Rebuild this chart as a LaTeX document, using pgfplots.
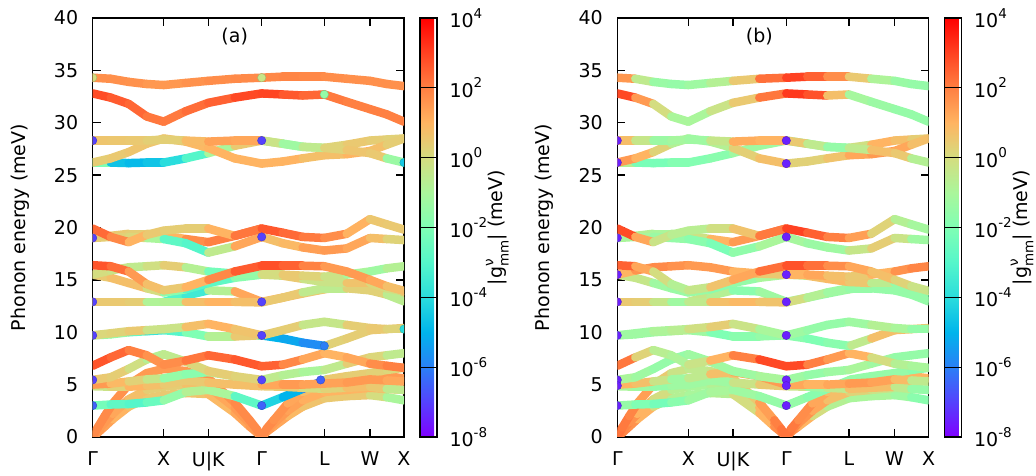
\documentclass[border=0pt]{standalone}
\usepackage{fontspec}
\setmainfont{DejaVu Sans}
\usepackage{pgfplots}
\pgfplotsset{compat=1.18}
\usepackage{pgfplotstable}
\newcommand\sups[1]{\raisebox{0.5em}{\fontsize{13.5bp}{15bp}\selectfont #1}}
\newcommand\subs[1]{\raisebox{-0.3em}{\fontsize{13.5bp}{15bp}\selectfont #1}}

% columns: x (path coordinate), y (energy, meV), a = log10|g| panel (a), b = log10|g| panel (b)
\pgfplotstableread{
x y a b
0 34.3 1.7 2.8
18 34.2 1.7 0.3
36 33.9 1.7 -1.3
54 33.7 1.6 -1.5
71 33.6 1.5 -1.5
93 33.8 1.6 -1.0
115.6 34.0 1.7 -0.5
142 34.2 1.8 1.5
169 34.3 1.8 3.0
190 34.4 1.9 3.0
210 34.4 1.9 2.0
231.6 34.4 1.8 1.5
254 34.2 1.7 -0.5
277.3 34.0 1.7 -1.3
294 33.7 1.7 -1.5
311.3 33.5 1.7 -1.5
}\bA
\pgfplotstableread{
x y a b
0 32.8 3.0 3.3
18 32.4 2.7 2.5
36 31.8 2.5 0.5
54 30.6 2.3 -0.5
71 30.1 2.0 -1.5
93 31.1 2.2 -0.5
115.6 31.9 2.4 0.0
142 32.4 2.6 1.0
169 32.8 3.2 3.3
190 32.7 2.7 3.0
210 32.6 2.6 2.5
231.6 32.7 2.2 -1.0
254 32.0 2.0 -1.2
277.3 31.3 2.0 -1.5
294 30.8 2.0 -1.5
311.3 30.1 2.0 -1.5
}\bB
\pgfplotstableread{
x y a b
0 28.3 0.6 0.8
18 28.3 0.6 0.8
36 28.3 0.5 -1.5
54 28.3 0.5 -1.2
71 28.4 0.2 -1.0
93 28.3 0.5 -1.5
115.6 28.2 1.2 0.8
142 28.3 1.5 1.5
169 28.3 1.0 0.5
190 28.0 -1.5 0.5
210 27.7 -1.0 -1.5
231.6 27.6 0.0 -1.5
254 27.4 0.5 0.5
277.3 27.1 0.7 1.0
294 26.6 0.3 0.0
311.3 26.2 -3.0 -1.5
}\bC
\pgfplotstableread{
x y a b
0 26.2 0.3 1.5
18 26.6 0.5 1.5
36 27.2 0.5 0.5
54 28.0 0.7 0.0
71 28.5 0.5 -1.5
93 28.2 0.8 -1.0
115.6 27.6 1.0 -0.5
142 26.6 1.0 1.2
169 26.1 1.0 0.3
190 26.3 1.0 0.3
210 26.6 1.0 0.3
231.6 26.9 0.5 1.0
254 27.0 1.0 1.5
277.3 27.3 1.0 1.5
294 27.9 0.5 1.0
311.3 28.5 0.3 0.5
}\bD
\pgfplotstableread{
x y a b
0 26.2 0.3 0.5
18 26.2 -4.3 -2.0
36 26.15 -5.0 -2.3
54 26.2 -4.7 -2.0
71 26.2 -4.5 -1.8
93 26.6 -3.5 -2.0
115.6 27.1 -2.5 -1.5
142 27.8 0.5 -1.0
169 28.3 0.5 -1.5
190 28.0 -1.5 -1.5
210 27.7 -1.0 -1.5
231.6 27.6 0.0 -1.2
254 27.9 0.5 1.0
277.3 28.3 0.5 1.0
294 28.4 0.3 0.5
311.3 28.5 0.3 0.3
}\bE
\pgfplotstableread{
x y a b
0 19.9 2.5 3.2
18 19.1 2.2 2.5
36 18.6 1.5 0.0
54 19.3 0.5 -0.5
71 19.7 0.5 -0.8
93 19.9 0.3 -0.5
115.6 19.9 0.5 0.3
142 19.2 1.5 1.0
169 19.9 2.8 3.2
190 19.5 2.5 2.8
210 19.1 2.2 2.2
231.6 19.0 2.0 1.8
254 19.4 1.5 1.0
277.3 20.8 0.6 -0.5
294 20.3 0.5 -1.0
311.3 19.8 0.5 -1.2
}\bF
\pgfplotstableread{
x y a b
0 19.0 0.5 -1.0
18 19.1 0.3 -1.0
36 19.1 0.3 -1.2
54 19.0 0.0 -1.5
71 18.9 -2.0 -1.5
93 18.5 -3.5 -2.0
115.6 17.6 -2.5 -2.2
142 18.2 1.5 -1.0
169 19.1 1.0 -1.0
190 18.5 0.5 -1.2
210 18.1 1.3 -1.5
231.6 17.8 1.5 -1.0
254 18.0 1.5 0.3
277.3 19.0 1.0 0.5
294 18.9 0.5 -1.0
311.3 18.8 0.0 -1.5
}\bG
\pgfplotstableread{
x y a b
0 19.0 0.5 -0.5
18 19.2 0.5 -0.5
36 19.4 0.5 -1.0
54 19.4 0.3 -1.0
71 19.2 0.5 -0.8
93 18.9 1.5 0.5
115.6 18.6 2.0 1.5
142 19.2 2.0 1.5
169 19.9 2.8 3.0
}\bH
\pgfplotstableread{
x y a b
0 16.4 2.8 3.0
18 16.3 2.6 2.0
36 15.8 2.0 0.5
54 14.6 1.0 -0.5
71 14.0 0.5 -1.0
93 14.3 0.5 0.3
115.6 15.0 1.5 1.0
142 15.8 2.2 1.5
169 16.35 3.0 3.0
190 16.35 2.6 2.5
210 16.35 2.4 2.0
231.6 16.3 1.5 1.5
254 15.8 1.5 1.0
277.3 15.0 1.5 0.5
294 14.4 1.0 0.0
311.3 13.95 0.5 -0.5
}\bI
\pgfplotstableread{
x y a b
0 15.5 0.0 0.5
18 15.9 0.0 1.5
36 16.2 -0.5 1.8
54 16.3 -0.5 1.8
71 16.4 0.3 1.5
93 16.2 0.5 1.5
115.6 15.8 -2.0 1.5
142 15.6 -2.5 0.5
169 15.5 -0.5 0.5
190 15.5 0.5 1.5
210 15.4 0.5 1.0
231.6 15.3 0.0 0.5
254 15.5 -0.5 0.5
277.3 15.8 -1.5 1.5
294 16.1 -1.0 1.8
311.3 16.3 -0.5 2.0
}\bJ
\pgfplotstableread{
x y a b
0 15.5 0.5 -1.0
18 15.2 0.5 0.3
36 14.7 1.0 -1.0
54 14.2 0.5 -1.5
71 13.8 -0.5 -1.3
93 14.1 -3.0 -1.5
115.6 14.7 -3.0 -2.0
142 15.2 -2.5 -1.0
169 15.5 -1.0 -1.0
190 15.4 0.5 0.5
210 15.1 0.5 1.0
231.6 14.8 -1.0 0.8
254 14.7 0.5 0.3
277.3 14.7 0.8 -1.5
294 14.2 -0.5 -1.5
311.3 13.9 0.3 -1.5
}\bK
\pgfplotstableread{
x y a b
0 12.9 0.5 0.5
18 12.9 0.5 0.5
36 12.9 0.5 0.3
54 12.9 0.3 -1.0
71 12.9 -2.0 -1.5
93 12.9 0.5 0.5
115.6 12.9 1.0 1.0
142 12.9 1.0 0.8
169 12.85 0.5 0.5
190 13.3 0.5 -0.5
210 13.8 0.5 -1.0
231.6 14.2 -1.5 -1.5
254 14.2 0.3 -1.5
277.3 14.0 0.3 -1.5
294 13.6 0.3 -1.5
311.3 12.95 -1.5 -1.5
}\bL
\pgfplotstableread{
x y a b
0 12.9 0.3 0.3
18 12.9 0.5 0.3
36 12.9 0.5 0.0
54 12.9 0.3 -1.0
71 12.9 -2.0 -1.2
93 13.5 -4.0 0.5
115.6 14.0 -3.0 -2.0
142 13.9 1.5 -1.5
169 12.9 1.0 -1.0
190 13.3 1.0 -1.5
210 13.7 0.5 -1.5
231.6 14.1 0.5 -1.2
254 14.4 0.5 -0.5
277.3 14.4 1.5 0.5
294 13.8 1.0 -1.5
311.3 13.2 0.5 -2.0
}\bM
\pgfplotstableread{
x y a b
0 9.7 0.3 -1.0
18 9.9 0.0 -1.5
36 10.1 0.5 -1.0
54 10.2 0.5 -0.8
71 10.3 -1.0 -0.5
93 10.5 0.5 0.3
115.6 10.8 1.0 0.5
142 10.3 1.0 -1.0
169 9.7 0.3 -1.0
190 10.2 0.5 -1.5
210 10.7 0.3 -1.5
231.6 11.0 -1.0 -1.5
254 10.7 0.3 -1.0
277.3 10.4 0.5 -0.5
294 10.3 0.5 -1.5
311.3 10.3 0.0 -1.5
}\bN
\pgfplotstableread{
x y a b
0 9.7 -2.0 -1.0
18 9.8 -1.0 -1.5
36 10.0 -2.0 -1.2
54 10.1 -3.5 -1.0
71 10.2 -4.0 -0.5
93 10.0 -2.0 -2.0
115.6 9.6 -2.0 -2.0
142 9.6 0.5 -1.5
166 9.7 0.5 -1.5
169 9.7 -5.0 -1.5
190 9.4 -5.0 -2.0
210 9.0 -5.5 -2.0
231.6 8.7 -6.0 -1.5
234 8.75 0.3 -1.5
254 9.4 0.3 0.5
277.3 10.2 0.5 1.0
294 10.3 0.5 0.5
311.3 10.4 0.5 0.3
}\bO
\pgfplotstableread{
x y a b
0 6.8 2.8 3.3
18 7.6 2.6 1.0
36 8.3 2.2 -0.5
54 7.8 1.8 -0.8
71 6.9 1.5 -1.0
93 7.3 2.0 0.5
115.6 7.8 2.3 1.5
142 7.4 2.5 2.5
169 6.75 2.8 3.3
190 6.9 2.2 2.5
210 7.4 1.5 1.5
231.6 8.0 1.0 1.5
254 7.6 1.0 0.5
277.3 7.0 1.5 -0.5
294 6.8 2.0 -1.0
311.3 6.6 2.0 -1.0
}\bP
\pgfplotstableread{
x y a b
0 5.45 0.5 -1.0
18 5.7 0.5 -1.0
36 6.5 0.3 -1.5
54 7.4 -0.5 -1.5
71 7.9 -1.0 -1.5
93 7.2 0.0 -1.0
115.6 6.3 0.3 -1.5
142 5.8 0.5 -1.0
169 5.45 0.0 -1.0
190 5.9 -1.0 -1.5
210 6.2 -0.5 -1.5
231.6 6.4 -1.5 -1.0
254 7.0 0.5 -1.0
277.3 7.6 0.3 -1.5
294 7.8 0.0 -1.5
311.3 8.0 -1.0 -1.5
}\bQ
\pgfplotstableread{
x y a b
0 5.0 1.5 1.0
18 5.1 1.5 1.0
36 5.3 0.3 0.5
54 5.5 0.3 -1.0
71 5.6 -1.0 -1.5
93 6.0 -2.0 0.5
115.6 6.2 -1.5 1.0
142 5.8 0.5 1.5
169 5.0 1.0 1.5
190 5.0 1.5 1.0
210 5.0 1.5 1.0
231.6 5.1 1.2 1.5
254 5.2 1.5 1.5
277.3 5.5 1.5 1.2
294 5.4 1.5 0.5
311.3 5.3 1.0 -1.5
}\bR
\pgfplotstableread{
x y a b
0 4.85 0.0 -1.0
18 4.8 -0.5 -1.0
36 4.8 1.0 -1.5
54 4.9 1.0 -1.5
71 5.0 0.5 -1.0
93 5.4 0.5 -1.5
115.6 5.2 0.5 -1.0
142 5.0 1.0 0.5
169 4.85 0.5 0.5
190 4.8 0.5 -1.0
210 4.7 0.5 -1.5
231.6 4.6 -0.5 0.5
254 4.7 1.0 1.0
277.3 4.8 0.5 0.5
294 4.6 0.5 -1.5
311.3 4.5 -1.5 -1.5
}\bS
\pgfplotstableread{
x y a b
0 3.0 -2.0 -1.5
18 3.1 -2.5 -1.5
36 3.15 -3.0 -2.5
54 3.3 -3.0 -2.0
71 3.5 -2.0 -1.5
93 4.3 -1.0 -1.0
115.6 4.5 -0.5 -1.0
142 3.9 -1.5 -1.5
169 3.0 -4.0 -1.5
190 3.8 -4.5 -1.5
210 4.6 -5.5 -2.0
231.6 5.4 -6.5 -1.5
234 5.5 0.5 -1.5
254 5.8 0.5 -1.5
277.3 6.1 0.3 -1.5
294 6.4 0.3 -1.5
311.3 6.6 0.0 -2.0
}\bT
\pgfplotstableread{
x y a b
0 0 1.5 2.0
5 0.4 1.5 2.0
12 1.0 1.5 1.8
20 1.7 1.2 1.5
36 2.9 0.8 0.5
54 3.7 0.5 -0.5
71 4.0 0.5 -1.0
93 4.2 0.5 -1.0
115.6 4.1 0.8 -0.5
142 2.3 1.0 0.5
157 1.0 1.5 1.5
164 0.45 1.5 2.0
169 0 1.5 2.0
174 0.5 1.5 2.0
181 1.0 1.5 1.5
195 2.0 1.0 0.5
210 2.9 0.8 -0.5
231.6 3.7 0.5 -1.0
254 3.9 0.5 -1.0
277.3 4.0 0.5 -1.0
294 3.8 -0.5 -1.5
311.3 3.5 -1.5 -2.0
}\bU
\pgfplotstableread{
x y a b
0 0 1.5 2.0
5 0.6 1.5 2.0
12 1.4 1.5 1.8
20 2.2 1.5 1.5
36 3.6 1.0 0.5
54 4.5 0.5 -0.5
71 4.8 0.3 -1.0
93 5.0 0.5 -1.0
115.6 4.8 1.0 -0.5
142 2.8 1.5 0.5
157 1.3 1.5 1.5
164 0.6 1.5 2.0
169 0 1.5 2.0
174 0.6 1.5 2.0
181 1.3 1.5 1.8
195 2.5 1.5 1.5
210 3.5 1.2 1.0
231.6 4.3 1.0 0.5
254 4.5 1.0 0.0
277.3 4.7 1.0 -0.5
294 4.6 1.0 -1.0
311.3 4.5 1.0 -1.0
}\bV
\pgfplotstableread{
x y a b
0 0 1.8 2.2
5 0.9 1.8 2.2
12 2.0 1.8 2.0
20 3.2 1.8 1.8
36 5.0 1.5 1.0
54 6.1 1.5 0.0
71 6.5 1.5 -0.5
93 6.3 1.5 -0.5
115.6 5.6 1.5 0.0
142 3.3 1.8 1.0
157 1.6 1.8 1.8
164 0.75 1.8 2.2
169 0 1.8 2.2
174 0.8 1.8 2.2
181 1.6 1.8 2.0
195 3.2 1.5 1.5
210 4.3 1.0 1.0
231.6 5.2 0.5 0.5
254 5.7 0.5 0.5
277.3 5.9 1.0 1.0
294 5.8 1.5 1.0
311.3 5.6 1.5 1.0
}\bW
% end points with their own colour
\pgfplotstableread{
x y m
0 34.3 0.0
0 28.3 -7
0 19.0 -7
0 12.9 -7
0 9.7 -7
0 5.45 -7
0 3.0 -6.5
169 34.3 -0.3
169 28.3 -7
169 19.1 -7
169 12.9 -7
169 9.7 -7
169 5.45 -7
169 3.0 -6.5
231.6 32.7 -1.5
231.6 8.7 -6
228 5.45 -6.5
311.3 26.2 -4.5
311.3 10.3 -4.0
}\dotsA
\pgfplotstableread{
x y m
0 28.3 -7.5
0 26.2 -7.5
0 19.0 -7.5
0 15.5 -7.5
0 12.9 -7.5
0 9.7 -7.5
0 5.45 -7.5
0 4.9 -7.5
0 3.0 -7.5
169 28.3 -7.5
169 26.1 -7.5
169 19.1 -7.5
169 15.5 -7.5
169 12.9 -7.5
169 9.7 -7.5
169 5.45 -7.5
169 4.9 -7.5
169 3.0 -7.5
}\dotsB

\pgfplotsset{
  colormap={gp}{rgb=(0.5,0,1) rgb=(0.333,0.259,0.991) rgb=(0.167,0.5,0.966) rgb=(0,0.707,0.924) rgb=(0.167,0.866,0.866) rgb=(0.333,0.966,0.793) rgb=(0.5,1,0.707) rgb=(0.667,0.966,0.609) rgb=(0.833,0.866,0.5) rgb=(1,0.707,0.383) rgb=(1,0.5,0.259) rgb=(1,0.259,0.131) rgb=(1,0,0)},
  bandline/.style={mesh, shader=flat mean, line width=8.5bp, line cap=round, point meta=explicit},
  dotmark/.style={scatter, only marks, mark=*, mark size=4.2bp, point meta=explicit},
  bandaxis/.style={
    scale only axis, width=311.3bp, height=419bp,
    xmin=0, xmax=311.3, ymin=0, ymax=40,
    xtick={0,71,115.6,169,231.6,277.3,311.3},
    xticklabels={Γ,X,U|K,Γ,L,W,X},
    ytick={0,5,10,15,20,25,30,35,40},
    xtick pos=both, ytick pos=both,
    tick align=inside,
    major tick length=8bp,
    tick style={black, line width=1.3bp},
    axis line style={line width=1.3bp},
    /pgf/number format/assume math mode=true,
    yticklabel style={xshift=-8bp},
    xticklabel style={yshift=-8bp},
    ylabel={Phonon energy (meV)},
    ylabel style={at={(axis description cs:-0.2335,0.5)}, anchor=center},
    point meta min=-8, point meta max=4,
    clip marker paths=true,
    colorbar,
    colorbar style={
      scale only axis, width=17bp, height=419bp,
      at={(parent axis.north east)}, anchor=north west, xshift=7.5bp,
      ytick={-8,-6,-4,-2,0,2,4},
      yticklabels={10\sups{-8},10\sups{-6},10\sups{-4},10\sups{-2},10\sups{0},10\sups{2},10\sups{4}},
      ytick pos=right, yticklabel pos=right,
      tick align=inside,
      major tick length=17bp,
      ytick style={black, line width=1.3bp},
      axis line style={line width=1.3bp},
      yticklabel style={xshift=6bp},
      ylabel={|g\rlap{\sups{ν}}\subs{mm}| (meV)},
      ylabel style={at={(axis description cs:4.55,0.5)}, anchor=center},
    },
  },
}

\newcommand\plotbands[1]{%
  \addplot[bandline] table[x=x,y=y,meta=#1]{\bU};
  \addplot[bandline] table[x=x,y=y,meta=#1]{\bV};
  \addplot[bandline] table[x=x,y=y,meta=#1]{\bW};
  \addplot[bandline] table[x=x,y=y,meta=#1]{\bT};
  \addplot[bandline] table[x=x,y=y,meta=#1]{\bS};
  \addplot[bandline] table[x=x,y=y,meta=#1]{\bR};
  \addplot[bandline] table[x=x,y=y,meta=#1]{\bQ};
  \addplot[bandline] table[x=x,y=y,meta=#1]{\bP};
  \addplot[bandline] table[x=x,y=y,meta=#1]{\bO};
  \addplot[bandline] table[x=x,y=y,meta=#1]{\bN};
  \addplot[bandline] table[x=x,y=y,meta=#1]{\bM};
  \addplot[bandline] table[x=x,y=y,meta=#1]{\bL};
  \addplot[bandline] table[x=x,y=y,meta=#1]{\bK};
  \addplot[bandline] table[x=x,y=y,meta=#1]{\bJ};
  \addplot[bandline] table[x=x,y=y,meta=#1]{\bI};
  \addplot[bandline] table[x=x,y=y,meta=#1]{\bH};
  \addplot[bandline] table[x=x,y=y,meta=#1]{\bG};
  \addplot[bandline] table[x=x,y=y,meta=#1]{\bF};
  \addplot[bandline] table[x=x,y=y,meta=#1]{\bE};
  \addplot[bandline] table[x=x,y=y,meta=#1]{\bD};
  \addplot[bandline] table[x=x,y=y,meta=#1]{\bC};
  \addplot[bandline] table[x=x,y=y,meta=#1]{\bB};
  \addplot[bandline] table[x=x,y=y,meta=#1]{\bA};
}

\begin{document}
\fontsize{19bp}{23bp}\selectfont
\begin{tikzpicture}
\path[use as bounding box] (-92.7bp,-39bp) rectangle (943.3bp,437bp);
\begin{axis}[bandaxis, at={(0,0)}, anchor=south west]
\plotbands{a}
\addplot[dotmark] table[x=x,y=y,meta=m]{\dotsA};
\node at (axis cs:142,38.2) {(a)};
\end{axis}
\begin{axis}[bandaxis, at={(524.6bp,0)}, anchor=south west]
\plotbands{b}
\addplot[dotmark] table[x=x,y=y,meta=m]{\dotsB};
\node at (axis cs:142,38.2) {(b)};
\end{axis}
\end{tikzpicture}
\end{document}
